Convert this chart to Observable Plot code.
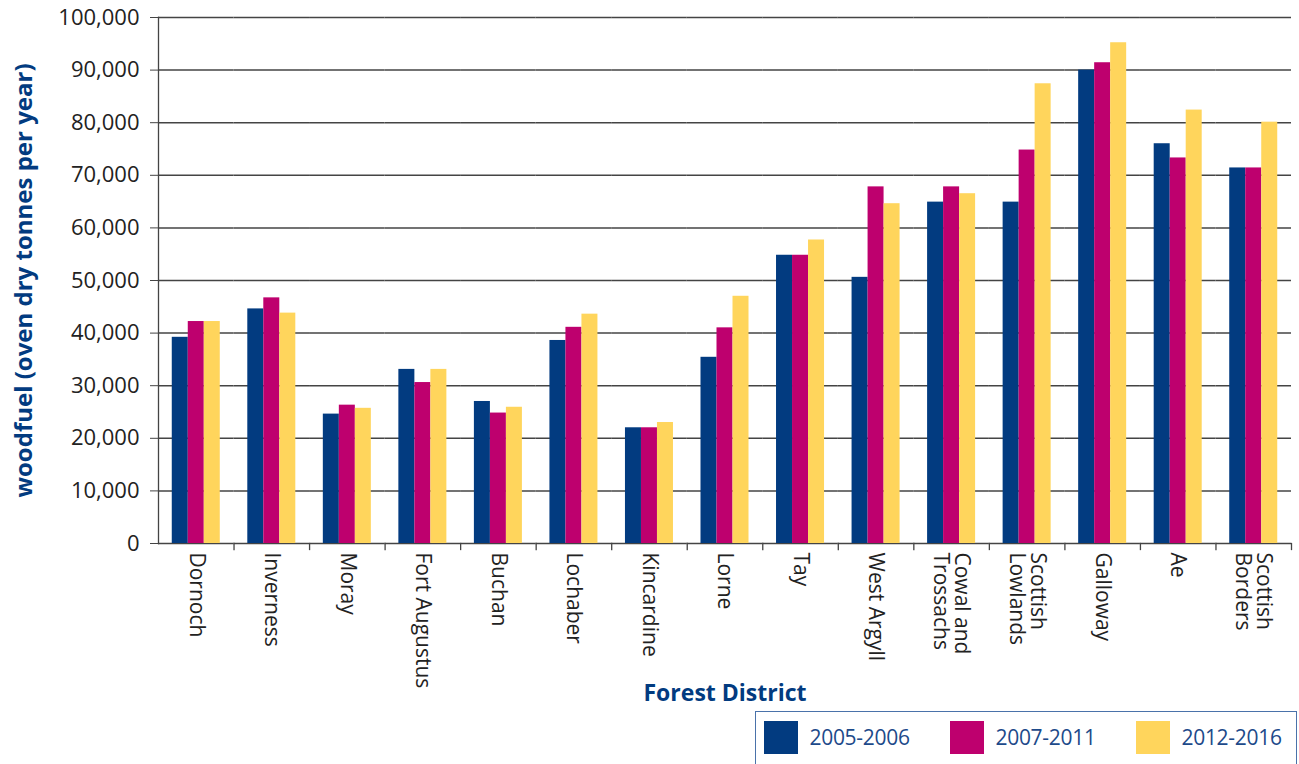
<!DOCTYPE html>
<html>
<head>
<meta charset="utf-8">
<script src="https://cdn.jsdelivr.net/npm/d3@7"></script>
<script src="https://cdn.jsdelivr.net/npm/@observablehq/plot@0.6"></script>
<style>
  html, body { margin: 0; padding: 0; background: #fff; overflow: hidden; }
  body { font-family: "Open Sans", sans-serif; width: 1299px; height: 764px; }
  #legend {
    position: absolute; left: 755px; top: 711px; width: 542px; height: 70px;
    border: 1.5px solid #4a72aa; box-sizing: border-box;
    display: flex; align-items: flex-start; padding: 8.5px 0 0 7.5px;
  }
  .item { display: flex; align-items: center; width: 186px; flex: none; }
  .sw { width: 34px; height: 33px; margin-right: 12px; flex: none; }
  .lab { font-size: 21px; color: #1d4a8a; letter-spacing: -0.3px; }
</style>
</head>
<body>
<div id="chart"></div>
<div id="legend"></div>
<script>
const districts = ["Dornoch","Inverness","Moray","Fort Augustus","Buchan","Lochaber","Kincardine","Lorne","Tay","West Argyll","Cowal and Trossachs","Scottish Lowlands","Galloway","Ae","Scottish Borders"];
const tickLabels = ["Dornoch","Inverness","Moray","Fort Augustus","Buchan","Lochaber","Kincardine","Lorne","Tay","West Argyll","Cowal and\nTrossachs","Scottish\nLowlands","Galloway","Ae","Scottish\nBorders"];
const periods = ["2005-2006","2007-2011","2012-2016"];
const values2005 = [39200,44600,24600,33100,27000,38600,22000,35400,54800,50600,64900,64900,90000,76000,71400];
const values2007 = [42200,46700,26300,30600,24800,41100,22000,41000,54800,67800,67800,74800,91400,73300,71400];
const values2012 = [42200,43800,25700,33100,25900,43600,23000,47000,57700,64600,66500,87400,95200,82400,80100];
const yTicks = [0,10000,20000,30000,40000,50000,60000,70000,80000,90000,100000];
const colors = ["#023b80","#be006e","#ffd55c"];
const yTitle = "woodfuel (oven dry tonnes per year)";
const xTitle = "Forest District";

const seriesValues = [values2005, values2007, values2012];
const rows = districts.flatMap((d, i) => periods.map((p, k) => ({district: d, period: p, value: seriesValues[k][i]})));
const labelOf = new Map(districts.map((d, i) => [d, tickLabels[i]]));

const chart = Plot.plot({
  width: 1299, height: 705,
  marginLeft: 158, marginRight: 8, marginTop: 17, marginBottom: 162,
  style: {fontFamily: "'Open Sans', sans-serif", background: "#fff", overflow: "visible"},
  fx: {domain: districts, paddingInner: 0, paddingOuter: 0, round: false, label: null},
  x: {domain: periods, paddingInner: 0, paddingOuter: 0.86, round: false, axis: null},
  y: {domain: [0, 100000], label: null},
  color: {domain: periods, range: colors},
  marks: [
    Plot.ruleY(yTicks, {stroke: "#444", strokeWidth: 1.5}),
    Plot.barY(rows, {fx: "district", x: "period", y: "value", fill: "period"}),
    Plot.frame({anchor: "right", insetTop: 526, insetBottom: -6, stroke: "#444", strokeWidth: 1.3}),
    Plot.frame({anchor: "left", facetAnchor: "left", stroke: "#444", strokeWidth: 1.3}),
    Plot.axisY({ticks: yTicks, tickFormat: d3.format(","), tickSize: 8, tickPadding: 11, fontSize: 22, color: "#222", stroke: "#444", label: null}),
    Plot.axisFx({anchor: "bottom", tickSize: 0, tickPadding: 9, tickRotate: 90, tickFormat: d => labelOf.get(d), fontSize: 21, color: "#222", label: null}),
    Plot.axisFx({anchor: "bottom", ticks: [], label: xTitle, labelAnchor: "center", labelOffset: 157, fontSize: 23, fontWeight: "bold", color: "#023b80"}),
    Plot.text([yTitle], {frameAnchor: "left", textAnchor: "middle", rotate: -90, dx: -134, facetAnchor: "left", fontSize: 24, fontWeight: "bold", fill: "#023b80"})
  ]
});
document.getElementById("chart").appendChild(chart);

const legend = document.getElementById("legend");
periods.forEach((p, k) => {
  const item = document.createElement("div");
  item.className = "item";
  const sw = document.createElement("div");
  sw.className = "sw";
  sw.style.background = colors[k];
  const lab = document.createElement("span");
  lab.className = "lab";
  lab.textContent = p;
  item.appendChild(sw);
  item.appendChild(lab);
  legend.appendChild(item);
});
</script>
</body>
</html>
